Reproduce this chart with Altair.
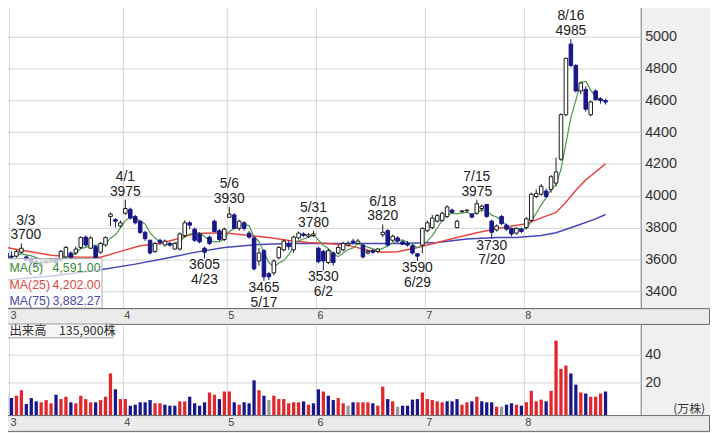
import altair as alt
import pandas as pd

# ---------------- data ----------------
MONTH_LABELS = ["3", "4", "5", "6", "7", "8"]
MONTH_START = [0, 23, 44, 62, 84, 104]      # trading-day index of first day in month

FIRST_INDEX = -1                             # first candle is the last day of February
OPEN = [3640, 3620, 3620, 3645, 3615, 3600, 3585, 3560, 3580, 3590,
        3600, 3595, 3615, 3640, 3640, 3675, 3740, 3670, 3680, 3645,
        3690, 3870, 3850, 3810, 3890, 3915, 3870, 3840, 3770, 3720,
        3650, 3720, 3690, 3700, 3665, 3665, 3750, 3830, 3790, 3760,
        3670, 3740, 3840, 3780, 3725, 3865, 3880, 3795, 3830, 3765,
        3735, 3590, 3655, 3510, 3515, 3610, 3660, 3700, 3660, 3735,
        3760, 3745, 3750, 3670, 3650, 3580, 3640, 3640, 3660, 3690,
        3715, 3700, 3690, 3640, 3655, 3650, 3755, 3780, 3720, 3735,
        3710, 3700, 3685, 3635, 3690, 3780, 3800, 3840, 3845, 3870,
        3910, 3800, 3900, 3905, 3885, 3890, 3920, 3945, 3840, 3785,
        3870, 3815, 3795, 3765, 3790, 3800, 3845, 3995, 4010, 4030,
        4040, 4080, 4230, 4510, 4955, 4820, 4660, 4670, 4510, 4660,
        4610, 4600]
HIGH = [3660, 3650, 3660, 3700, 3625, 3610, 3600, 3590, 3600, 3610,
        3610, 3660, 3685, 3650, 3680, 3745, 3750, 3745, 3690, 3710,
        3745, 3895, 3860, 3845, 3975, 3925, 3880, 3845, 3780, 3725,
        3710, 3730, 3725, 3710, 3705, 3770, 3845, 3840, 3800, 3770,
        3680, 3750, 3850, 3790, 3800, 3930, 3890, 3850, 3840, 3780,
        3745, 3670, 3665, 3520, 3600, 3685, 3725, 3720, 3750, 3775,
        3770, 3765, 3780, 3680, 3660, 3665, 3650, 3690, 3710, 3715,
        3730, 3730, 3700, 3660, 3665, 3670, 3820, 3790, 3755, 3745,
        3720, 3715, 3695, 3640, 3800, 3845, 3880, 3885, 3900, 3940,
        3920, 3850, 3910, 3915, 3890, 3975, 3945, 3950, 3850, 3820,
        3880, 3825, 3800, 3800, 3800, 3865, 4020, 4040, 4075, 4045,
        4130, 4240, 4520, 4870, 4985, 4830, 4720, 4690, 4600, 4670,
        4620, 4610]
LOW = [3600, 3600, 3610, 3635, 3590, 3570, 3550, 3550, 3570, 3580,
       3570, 3585, 3605, 3600, 3630, 3665, 3680, 3665, 3600, 3635,
       3680, 3810, 3800, 3800, 3880, 3850, 3820, 3760, 3715, 3630,
       3640, 3690, 3680, 3680, 3660, 3655, 3740, 3790, 3710, 3700,
       3605, 3690, 3770, 3715, 3715, 3860, 3790, 3780, 3780, 3730,
       3530, 3560, 3465, 3470, 3500, 3600, 3650, 3660, 3640, 3725,
       3740, 3735, 3740, 3575, 3530, 3570, 3560, 3630, 3650, 3680,
       3695, 3695, 3605, 3630, 3635, 3640, 3740, 3680, 3710, 3705,
       3690, 3680, 3630, 3590, 3640, 3770, 3790, 3830, 3835, 3860,
       3890, 3795, 3895, 3895, 3860, 3880, 3900, 3860, 3730, 3775,
       3815, 3780, 3745, 3755, 3765, 3790, 3835, 3985, 4000, 3985,
       4020, 4060, 4220, 4500, 4810, 4650, 4640, 4530, 4500, 4600,
       4580, 4575]
CLOSE = [3610, 3615, 3650, 3670, 3595, 3580, 3560, 3580, 3590, 3600,
         3580, 3650, 3675, 3610, 3665, 3737, 3690, 3735, 3610, 3700,
         3737, 3885, 3840, 3830, 3920, 3860, 3830, 3770, 3730, 3640,
         3700, 3705, 3715, 3690, 3700, 3760, 3830, 3815, 3720, 3710,
         3645, 3700, 3775, 3725, 3790, 3885, 3795, 3840, 3795, 3740,
         3540, 3640, 3490, 3490, 3590, 3675, 3715, 3680, 3740, 3765,
         3750, 3755, 3760, 3585, 3590, 3655, 3580, 3675, 3700, 3700,
         3705, 3715, 3615, 3650, 3645, 3665, 3770, 3690, 3745, 3715,
         3695, 3690, 3640, 3620, 3795, 3830, 3860, 3875, 3890, 3930,
         3895, 3840, 3905, 3910, 3865, 3950, 3935, 3870, 3770, 3810,
         3825, 3790, 3760, 3795, 3775, 3855, 4010, 4015, 4060, 3995,
         4120, 4150, 4510, 4865, 4820, 4660, 4710, 4545, 4590, 4605,
         4600, 4590]
# volume in 万株
VOLUME = [11.5, 9.1, 10.8, 14.7, 4.9, 9.1, 6.8, 6.1, 7.7, 5.4,
          11.5, 8.4, 10.1, 6.1, 5.4, 10.8, 8.4, 6.1, 6.1, 7.7,
          10.1, 26.7, 15.4, 8.4, 8.4, 3.7, 4.4, 6.1, 6.1, 7.7,
          5.4, 5.4, 4.4, 3.7, 3.7, 6.8, 6.8, 10.1, 5.4, 3.7,
          6.1, 13.1, 11.5, 8.4, 13.8, 13.8, 6.1, 4.4, 6.1, 5.4,
          21.8, 14.7, 10.8, 7.7, 10.8, 8.4, 8.4, 5.4, 6.1, 6.1,
          6.8, 4.4, 5.4, 15.4, 13.8, 10.8, 7.7, 9.1, 5.4, 3.7,
          6.1, 6.1, 6.1, 6.1, 5.4, 3.7, 17.3, 8.4, 6.8, 3.0,
          3.7, 3.7, 8.0, 8.4, 13.1, 8.4, 7.7, 6.8, 6.1, 6.8,
          6.8, 8.4, 4.4, 6.1, 6.8, 10.1, 6.8, 6.1, 6.1, 3.0,
          3.0, 4.4, 5.4, 4.4, 3.7, 6.1, 14.3, 6.8, 8.0, 6.8,
          14.3, 50.1, 30.0, 32.3, 26.7, 18.7, 13.1, 12.4, 10.1, 10.1,
          12.4, 13.8]
# volume bar colour class: u = up (red), d = down (blue), f = unchanged (gray)
VOL_DIR = ["d", "d", "u", "u", "d", "d", "d", "u", "u", "u",
           "d", "u", "u", "d", "u", "u", "u", "u", "d", "u",
           "u", "u", "d", "u", "u", "d", "d", "d", "d", "d",
           "u", "u", "d", "d", "d", "u", "u", "d", "d", "d",
           "d", "u", "u", "d", "u", "u", "d", "u", "d", "d",
           "d", "u", "d", "f", "u", "u", "u", "u", "u", "u",
           "d", "u", "d", "d", "u", "d", "d", "u", "u", "f",
           "d", "u", "u", "u", "d", "u", "u", "d", "u", "f",
           "d", "d", "d", "d", "u", "u", "u", "u", "u", "d",
           "d", "d", "u", "u", "d", "u", "d", "d", "d", "u",
           "f", "d", "d", "u", "d", "u", "u", "u", "u", "d",
           "u", "u", "u", "u", "d", "d", "u", "d", "u", "u",
           "u", "d"]

MA25_AT = [-1, 2, 8, 13, 18, 22, 26, 30, 33, 37, 43, 48, 52, 56, 60, 64, 68, 72, 75, 78,
           82, 86, 90, 94, 98, 104, 107, 110, 112, 114, 116, 118, 120]
MA25 = [3675, 3657, 3626, 3615, 3613, 3650, 3685, 3700, 3725, 3762, 3768, 3750, 3737, 3719,
        3706, 3700, 3688, 3657, 3644, 3648, 3675, 3706, 3737, 3768, 3793, 3824, 3861, 3895,
        3960, 4035, 4100, 4150, 4202]
MA75_AT = [-1, 8, 18, 25, 31, 37, 43, 50, 56, 64, 78, 86, 92, 98, 102, 107, 110, 114, 118, 120]
MA75 = [3470, 3495, 3535, 3570, 3605, 3644, 3675, 3694, 3700, 3700, 3700, 3706, 3728, 3737,
        3738, 3750, 3768, 3810, 3855, 3882]

HIGH_NOTE_DATE = ["3/3", "4/1", "5/6", "5/31", "6/18", "7/15", "8/16"]
HIGH_NOTE_AT = [2, 23, 44, 61, 75, 94, 113]
LOW_NOTE_DATE = ["4/23", "5/17", "6/2", "6/29", "7/20"]
LOW_NOTE_AT = [39, 51, 63, 82, 97]

LEGEND_NAMES = ["MA(5)", "MA(25)", "MA(75)"]
LEGEND_VALUES = ["4,591.00", "4,202.00", "3,882.27"]
VOLUME_LABEL = "出来高\u3000135,900株"
VOLUME_UNIT = "(万株)"
PRICE_TICKS = [3400, 3600, 3800, 4000, 4200, 4400, 4600, 4800, 5000]
VOLUME_TICKS = [20, 40]

# ---------------- styling / layout ----------------
NAVY = "#17178a"
RED = "#e3262b"
GRAY = "#9a9a9a"
EDGE = "#1a1a1a"
GREEN_MA = "#4c9a4c"
RED_MA = "#e8473f"
BLUE_MA = "#4646b8"
LEGEND_COLORS = ["#3a8a3a", "#d94a45", "#4a4aa8"]
GRID = "#d6d6d6"
FONT = "Liberation Sans"
JP_FONT = "Noto Sans CJK JP"

PLOT_W = 643
PRICE_H = 307
BAND_H = 16
VOL_H = 92
BAND_W = 712
X_DOMAIN = [-1.5, 127.1]
BAND_DOMAIN = [-1.5, -1.5 + BAND_W * (X_DOMAIN[1] - X_DOMAIN[0]) / PLOT_W]
PRICE_DOMAIN = [3293, 5206]
VOL_DOMAIN = [-3.0, 62.0]
NOTE_MIN_X = 2.9   # keeps the leftmost note text inside the visible page

n = len(OPEN)
candles = pd.DataFrame({
    "i": list(range(FIRST_INDEX, FIRST_INDEX + n)),
    "o": OPEN, "h": HIGH, "l": LOW, "c": CLOSE, "v": VOLUME, "vd": VOL_DIR,
})

xscale = alt.Scale(domain=X_DOMAIN, nice=False, zero=False)
x_axis = alt.Axis(values=[m - 0.5 for m in MONTH_START], grid=True, gridColor=GRID,
                  labels=False, ticks=False, domain=False, title=None)
pscale = alt.Scale(domain=PRICE_DOMAIN, nice=False, zero=False)
p_axis = alt.Axis(orient="right", values=PRICE_TICKS, grid=True, gridColor=GRID,
                  ticks=False, domain=False, labelFont=FONT, labelFontSize=14.5,
                  labelColor="#333333", labelPadding=4, labelAlign="left", title=None,
                  format="d", minExtent=69, maxExtent=69)


def X(f):
    return alt.X(f"{f}:Q", scale=xscale, axis=x_axis)


def YP(f):
    return alt.Y(f"{f}:Q", scale=pscale, axis=p_axis)


dir_fill = alt.Scale(domain=["up", "down"], range=["white", NAVY])
dir_stroke = alt.Scale(domain=["up", "down"], range=[EDGE, NAVY])

base = alt.Chart(candles).transform_calculate(
    dir="datum.c >= datum.o ? 'up' : 'down'",
    x1="datum.i - 0.36",
    x2="datum.i + 0.36",
)

ma5 = alt.Chart(candles).transform_window(
    ma5="mean(c)", frame=[-4, 0], sort=[alt.SortField("i")]
).mark_line(color=GREEN_MA, strokeWidth=1.2).encode(x=X("i"), y=YP("ma5"))

ma25 = alt.Chart(pd.DataFrame({"i": MA25_AT, "m": MA25})).mark_line(
    color=RED_MA, strokeWidth=1.5).encode(x=X("i"), y=YP("m"))
ma75 = alt.Chart(pd.DataFrame({"i": MA75_AT, "m": MA75})).mark_line(
    color=BLUE_MA, strokeWidth=1.5).encode(x=X("i"), y=YP("m"))

wick = base.mark_rule(strokeWidth=1).encode(
    x=X("i"), y=YP("l"), y2="h:Q",
    stroke=alt.Stroke("dir:N", scale=dir_stroke, legend=None))

body = base.mark_rect(strokeWidth=1).encode(
    x=X("x1"), x2="x2:Q", y=YP("o"), y2="c:Q",
    fill=alt.Fill("dir:N", scale=dir_fill, legend=None),
    stroke=alt.Stroke("dir:N", scale=dir_stroke, legend=None))

hi_df = pd.DataFrame({
    "i": HIGH_NOTE_AT, "date": HIGH_NOTE_DATE,
    "p": [HIGH[a - FIRST_INDEX] for a in HIGH_NOTE_AT],
})
hi_df["pt"] = hi_df["p"].astype(str)
lo_df = pd.DataFrame({
    "i": LOW_NOTE_AT, "date": LOW_NOTE_DATE,
    "p": [LOW[a - FIRST_INDEX] for a in LOW_NOTE_AT],
})
lo_df["pt"] = lo_df["p"].astype(str)

note_kw = dict(font=FONT, fontSize=14, color="#222222", baseline="middle", align="center")


def note(df, dy, field):
    return alt.Chart(df).transform_calculate(
        ix=f"max(datum.i, {NOTE_MIN_X})"
    ).mark_text(dy=dy, **note_kw).encode(x=X("ix"), y=YP("p"), text=f"{field}:N")


hi_date = note(hi_df, -23, "date")
hi_price = note(hi_df, -8, "pt")
lo_price = note(lo_df, 7, "pt")
lo_date = note(lo_df, 22, "date")

one = pd.DataFrame({"k": [0]})
leg_box = alt.Chart(one).mark_rect(fill="white", fillOpacity=0.72, stroke="#a8a8a8", strokeWidth=1).encode(
    x=alt.value(0), x2=alt.value(99), y=alt.value(257), y2=alt.value(307))
legend_layers = [leg_box]
for k in range(3):
    d = pd.DataFrame({"name": [LEGEND_NAMES[k]], "val": [LEGEND_VALUES[k]]})
    legend_layers.append(alt.Chart(d).mark_text(
        font=FONT, fontSize=12.5, color=LEGEND_COLORS[k], align="left", baseline="middle").encode(
        x=alt.value(5.5), y=alt.value(267 + 16.5 * k), text="name:N"))
    legend_layers.append(alt.Chart(d).mark_text(
        font=FONT, fontSize=12.5, color=LEGEND_COLORS[k], align="right", baseline="middle").encode(
        x=alt.value(97.5), y=alt.value(267 + 16.5 * k), text="val:N"))

price = alt.layer(
    ma75, ma25, ma5, wick, body, hi_date, hi_price, lo_price, lo_date, *legend_layers
).properties(width=PLOT_W, height=PRICE_H,
             view=alt.ViewBackground(fill="white", stroke="#777777", strokeWidth=1))

# ---------------- volume panel ----------------
vscale = alt.Scale(domain=VOL_DOMAIN, nice=False, zero=False)
v_axis = alt.Axis(orient="right", values=VOLUME_TICKS, grid=True, gridColor=GRID,
                  ticks=False, domain=False, labelFont=FONT, labelFontSize=14.5,
                  labelColor="#333333", labelPadding=4, labelAlign="left", title=None,
                  format="d", minExtent=69, maxExtent=69)
vol_bars = alt.Chart(candles).transform_calculate(
    x1="datum.i - 0.33", x2="datum.i + 0.33"
).mark_rect().encode(
    x=X("x1"), x2="x2:Q",
    y=alt.Y("v:Q", scale=vscale, axis=v_axis), y2=alt.datum(VOL_DOMAIN[0]),
    fill=alt.Fill("vd:N", scale=alt.Scale(domain=["u", "d", "f"], range=[RED, NAVY, GRAY]), legend=None))

vlab = pd.DataFrame({"t": [VOLUME_LABEL], "u": [VOLUME_UNIT]})
vol_box = alt.Chart(vlab).mark_rect(fill="#f6f6f6", stroke="#a0a0a0", strokeWidth=1).encode(
    x=alt.value(0), x2=alt.value(110), y=alt.value(0), y2=alt.value(14))
vol_text = alt.Chart(vlab).mark_text(font=JP_FONT, fontSize=12.5, color="#333333",
                                     align="left", baseline="middle").encode(
    x=alt.value(5.5), y=alt.value(7.5), text="t:N")
vol_unit = alt.Chart(vlab).mark_text(font=JP_FONT, fontSize=12, color="#333333",
                                     align="right", baseline="middle").encode(
    x=alt.value(708), y=alt.value(86), text="u:N")

volume = alt.layer(vol_bars, vol_box, vol_text, vol_unit).properties(
    width=PLOT_W, height=VOL_H,
    view=alt.ViewBackground(fill="white", stroke="#777777", strokeWidth=1))

# ---------------- month bands ----------------
band_df = pd.DataFrame({"m": MONTH_LABELS, "s": [m - 0.5 for m in MONTH_START]})


def band():
    return alt.Chart(band_df).mark_text(
        align="left", baseline="middle", dx=1.5, font=FONT, fontSize=11, color="#444444"
    ).encode(
        x=alt.X("s:Q", scale=alt.Scale(domain=BAND_DOMAIN, nice=False, zero=False), axis=None),
        y=alt.value(BAND_H / 2),
        text="m:N",
    ).properties(width=BAND_W, height=BAND_H,
                 view=alt.ViewBackground(fill="#ebebeb", stroke="#6a6a6a", strokeWidth=1))


chart = alt.vconcat(price, band(), volume, band(), spacing=0, bounds="flush").resolve_scale(
    fill="independent", stroke="independent"
).properties(
    background="#f0f0f0",
    padding={"left": -5, "top": -7, "right": 0, "bottom": 0},
)

chart.save("out.html", embed_options={"renderer": "svg", "actions": False})
